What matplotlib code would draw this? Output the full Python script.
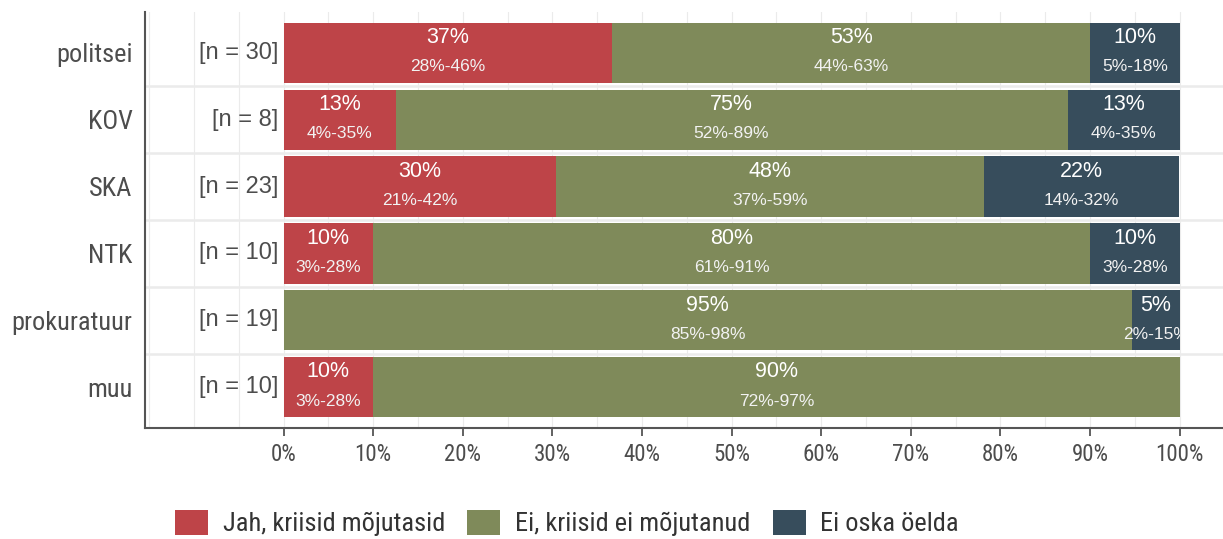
import matplotlib
matplotlib.use("Agg")
import matplotlib.pyplot as plt
from matplotlib.patches import Patch, Rectangle

# --- data -------------------------------------------------------------
groups = ["politsei", "KOV", "SKA", "NTK", "prokuratuur", "muu"]
n_sizes = [30, 8, 23, 10, 19, 10]

series_names = ["Jah, kriisid mõjutasid", "Ei, kriisid ei mõjutanud", "Ei oska öelda"]
jah = [36.7, 12.5, 30.4, 10.0, 0.0, 10.0]
ei = [53.3, 75.0, 47.8, 80.0, 94.7, 90.0]
ei_oska = [10.0, 12.5, 21.7, 10.0, 5.3, 0.0]

jah_ci = ["28%-46%", "4%-35%", "21%-42%", "3%-28%", "", "3%-28%"]
ei_ci = ["44%-63%", "52%-89%", "37%-59%", "61%-91%", "85%-98%", "72%-97%"]
ei_oska_ci = ["5%-18%", "4%-35%", "14%-32%", "3%-28%", "2%-15%", ""]

colors = ["#BE4448", "#7F8A5A", "#374D5C"]

x_ticks = list(range(0, 101, 10))
x_ticklabels = [f"{t}%" for t in x_ticks]

# --- fonts ------------------------------------------------------------
COND = ["Roboto Condensed", "Liberation Sans Narrow", "DejaVu Sans"]
REG = ["Liberation Sans", "DejaVu Sans"]
GREY = "#4D4D4D"

fig = plt.figure(figsize=(12.23, 5.39), dpi=100)
ax = fig.add_axes([145 / 1223, 1 - 428 / 539, 1 - 145 / 1223, (428 - 12) / 539])

ypos = list(range(len(groups)))[::-1]  # politsei on top
values = [jah, ei, ei_oska]
cis = [jah_ci, ei_ci, ei_oska_ci]

# segment labels are cut off at the 100 % edge of the bars
label_clip = Rectangle((-20, -1), 120, len(groups) + 1, transform=ax.transData)

for gi, y in enumerate(ypos):
    left = 0.0
    for si in range(3):
        v = values[si][gi]
        if v > 0:
            ax.barh(y, v, left=left, height=0.9, color=colors[si], zorder=3,
                    edgecolor="none")
            cx = left + v / 2
            pct = int(v + 0.5)
            t1 = ax.annotate(f"{pct}%", (cx, y), xytext=(0, 11), textcoords="offset points",
                             ha="center", va="center", color="white", fontsize=15.5,
                             family=REG, zorder=4)
            t2 = ax.annotate(cis[si][gi], (cx, y), xytext=(0, -10), textcoords="offset points",
                             ha="center", va="center", color="#F2F2F2", fontsize=12.5,
                             family=REG, zorder=4)
            t1.set_clip_path(label_clip)
            t2.set_clip_path(label_clip)
        left += v
    ax.annotate(f"[n = {n_sizes[gi]}]", (0, y), xytext=(-4, 0), textcoords="offset points",
                ha="right", va="center", color=GREY, fontsize=17, family=REG)

ax.set_xlim(-15.46, 104.85)
ax.set_ylim(-0.61, len(groups) - 1 + 0.61)

# grid: vertical every 5 %, horizontal between rows
for gx in range(-15, 101, 5):
    ax.axvline(gx, color="#EBEBEB", lw=0.8, zorder=0)
for gy in [y + 0.5 for y in range(len(groups) - 1)]:
    ax.axhline(gy, color="#EBEBEB", lw=1.8, zorder=1)

ax.set_xticks(x_ticks)
ax.set_xticklabels(x_ticklabels, family=COND, fontsize=16.5, color=GREY)
ax.set_yticks(ypos)
ax.set_yticklabels(groups, family=COND, fontsize=19, color=GREY)
ax.tick_params(axis="x", length=6, width=1.3, color="#555555", pad=5)
ax.tick_params(axis="y", length=0, pad=9)

for s in ("top", "right"):
    ax.spines[s].set_visible(False)
for s in ("left", "bottom"):
    ax.spines[s].set_color("#555555")
    ax.spines[s].set_linewidth(1.5)

handles = [Patch(facecolor=c, edgecolor="none") for c in colors]
fig.legend(handles, series_names, loc="center", bbox_to_anchor=(567 / 1223, 1 - 523 / 539),
           ncol=3, frameon=False, prop={"family": COND, "size": 19},
           handlelength=1.25, handleheight=1.1, handletextpad=0.55, columnspacing=0.85,
           labelcolor="#333333", borderpad=0)

fig.savefig("out.png", dpi=100, facecolor="white")
